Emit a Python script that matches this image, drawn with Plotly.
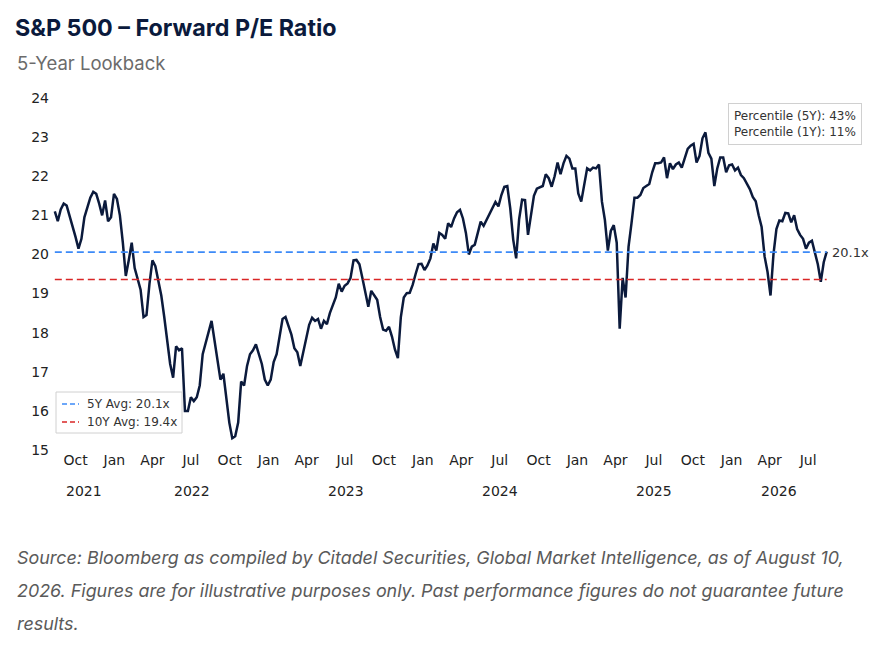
import pandas as pd
import plotly.graph_objects as go

# ── Dados (leitura semanal do gráfico, sexta-feira) ───────────────────────────
start_date = "2021-08-13"
pe_values = [
    21.1, 20.85, 21.15, 21.3, 21.25, 21.0, 20.75, 20.45, 20.15, 20.4,
    20.95, 21.2, 21.45, 21.6, 21.55, 21.3, 21.0, 21.38, 20.85, 20.95,
    21.55, 21.42, 21.0, 20.3, 19.45, 19.85, 20.3, 19.65, 19.35, 19.1,
    18.4, 18.45, 19.25, 19.85, 19.7, 19.3, 18.95, 18.4, 17.75, 17.2,
    16.85, 17.65, 17.55, 17.6, 16.0, 16.0, 16.35, 16.25, 16.35, 16.65,
    17.45, 17.75, 18.05, 18.3, 17.8, 17.3, 16.8, 16.95, 16.3, 15.7,
    15.3, 15.35, 15.7, 16.75, 16.65, 17.15, 17.45, 17.55, 17.7, 17.45,
    17.2, 16.8, 16.65, 16.8, 17.25, 17.45, 17.9, 18.35, 18.4, 18.15,
    17.95, 17.6, 17.5, 17.15, 17.5, 17.8, 18.2, 18.38, 18.3, 18.35,
    18.1, 18.3, 18.22, 18.5, 18.7, 18.9, 19.25, 19.05, 19.2, 19.26,
    19.4, 19.85, 19.86, 19.75, 19.4, 19.05, 18.66, 19.07, 18.97, 18.84,
    18.4, 18.08, 18.05, 18.15, 17.9, 17.57, 17.35, 18.4, 18.9, 19.01,
    19.02, 19.22, 19.5, 19.75, 19.76, 19.6, 19.72, 19.9, 20.28, 20.1,
    20.55, 20.5, 20.4, 20.8, 20.7, 20.92, 21.08, 21.14, 20.92, 20.55,
    20.0, 20.2, 20.25, 20.55, 20.84, 20.73, 20.88, 21.03, 21.18, 21.34,
    21.23, 21.52, 21.73, 21.75, 21.18, 20.38, 19.9, 20.9, 21.4, 21.39,
    20.5, 21.0, 21.5, 21.68, 21.72, 21.75, 22.05, 21.95, 21.73, 22.0,
    22.35, 22.05, 22.33, 22.52, 22.45, 22.2, 22.2, 21.56, 21.35, 21.75,
    22.2, 22.15, 22.22, 22.2, 22.3, 21.35, 20.88, 20.1, 20.6, 20.75,
    20.3, 18.1, 19.4, 18.9, 20.2, 20.8, 21.45, 21.45, 21.52, 21.7,
    21.75, 21.8, 22.1, 22.33, 22.33, 22.35, 22.48, 21.95, 22.33, 22.18,
    22.3, 22.35, 22.22, 22.47, 22.7, 22.78, 22.83, 22.35, 22.52, 22.97,
    23.12, 22.6, 22.45, 21.75, 22.2, 22.48, 22.48, 22.1, 22.28, 22.3,
    22.15, 22.22, 22.03, 21.95, 21.82, 21.67, 21.47, 21.36, 21.0, 20.7,
    19.95, 19.55, 18.95, 20.0, 20.65, 20.87, 20.85, 21.06, 21.05, 20.82,
    21.0, 20.65, 20.5, 20.4, 20.15, 20.3, 20.35, 20.05, 19.75, 19.3,
    19.8, 20.07,
]
avg_5y = 20.06
avg_10y = 19.36
pct_5y = 43
pct_1y = 11
tick_months = pd.date_range("2021-10-01", "2026-07-01", freq="QS")

datas = pd.date_range(start_date, periods=len(pe_values), freq="7D")
df = pd.DataFrame({"Date": datas, "PE": pe_values})

NAVY = "#0b1a3c"
BLUE = "#3d8af7"
RED = "#d92626"
FONT_MPL = "DejaVu Sans"
FONT_WEB = "Inter, Roboto, sans-serif"
DASH = "7px,4px"

# área do gráfico em pixels (para posicionar legenda/textos)
L, T, W, H = 50, 98, 820, 352


def px(x):
    return (x - L) / W


def py(y):
    return (T + H - y) / H


# ── Gráfico ───────────────────────────────────────────────────────────────────
fig = go.Figure()
fig.add_trace(go.Scatter(
    x=df["Date"], y=df["PE"], mode="lines", showlegend=False,
    line=dict(color=NAVY, width=2.5),
))
for val, cor in [(avg_5y, BLUE), (avg_10y, RED)]:
    fig.add_trace(go.Scatter(
        x=[df["Date"].iloc[0], df["Date"].iloc[-1]], y=[val, val],
        mode="lines", showlegend=False,
        line=dict(color=cor, width=1.7, dash=DASH),
    ))

# rótulos de ano no meio do trecho visível de cada ano
anotacoes = []
for ano, grp in df.groupby(df["Date"].dt.year):
    meio = grp["Date"].min() + (grp["Date"].max() - grp["Date"].min()) / 2
    anotacoes.append(dict(
        x=meio, y=py(491), xref="x", yref="paper", text=str(ano),
        showarrow=False, yanchor="middle",
        font=dict(family=FONT_MPL, size=14, color="#222222"),
    ))

# valor final
anotacoes.append(dict(
    x=df["Date"].iloc[-1], y=avg_5y, xref="x", yref="y",
    text=f"{avg_5y:.1f}x", showarrow=False, xanchor="left", xshift=3,
    font=dict(family=FONT_MPL, size=13, color="#333333"),
))

# caixa de percentis
anotacoes.append(dict(
    x=px(862), y=py(103), xref="paper", yref="paper", xanchor="right", yanchor="top",
    text=f"Percentile (5Y): {pct_5y}%<br>Percentile (1Y): {pct_1y}%",
    showarrow=False, align="left", bgcolor="white",
    bordercolor="#d0d0d0", borderwidth=1, borderpad=5,
    font=dict(family=FONT_MPL, size=12, color="#333333"),
))

# legenda manual (caixa + amostras tracejadas)
formas = [dict(
    type="rect", xref="paper", yref="paper",
    x0=px(56), x1=px(182), y0=py(433), y1=py(392),
    fillcolor="white", line=dict(color="#d0d0d0", width=1), layer="above",
)]
for (val, cor, rot), ylin in zip(
    [(avg_5y, BLUE, "5Y Avg"), (avg_10y, RED, "10Y Avg")], [404, 422]
):
    formas.append(dict(
        type="line", xref="paper", yref="paper",
        x0=px(62), x1=px(79), y0=py(ylin), y1=py(ylin),
        line=dict(color=cor, width=1.7, dash="5px,3px"), layer="above",
    ))
    anotacoes.append(dict(
        x=px(85), y=py(ylin), xref="paper", yref="paper",
        xanchor="left", yanchor="middle", showarrow=False,
        text=f"{rot}: {val:.1f}x",
        font=dict(family=FONT_MPL, size=12, color="#333333"),
    ))

# subtítulo e fonte
anotacoes.append(dict(
    x=px(15), y=py(63), xref="paper", yref="paper", xanchor="left", yanchor="middle",
    text="5-Year Lookback", showarrow=False,
    font=dict(family=FONT_WEB, size=18.5, color="#6b6b6b"),
))
linhas_fonte = [
    "Source: Bloomberg as compiled by Citadel Securities, Global Market Intelligence, as of August 10,",
    "2026. Figures are for illustrative purposes only. Past performance figures do not guarantee future",
    "results.",
]
for i, linha in enumerate(linhas_fonte):
    anotacoes.append(dict(
        x=px(15), y=py(557 + 33 * i), xref="paper", yref="paper",
        xanchor="left", yanchor="middle", showarrow=False,
        text=f"<i>{linha}</i>",
        font=dict(family=FONT_WEB, size=17.9, color="#5a5a5a"),
    ))

fig.update_layout(
    width=885, height=650,
    margin=dict(l=L, r=885 - L - W, t=T, b=650 - T - H),
    paper_bgcolor="white", plot_bgcolor="white",
    showlegend=False,
    title=dict(
        text="<b>S&amp;P 500 – Forward P/E Ratio</b>",
        x=15 / 885, xref="container", xanchor="left",
        y=1 - 28 / 650, yref="container", yanchor="middle",
        font=dict(family=FONT_WEB, size=23.3, color=NAVY),
    ),
    xaxis=dict(
        range=["2021-08-01 14:00", "2026-11-24 12:00"],
        tickvals=tick_months, ticktext=[d.strftime("%b") for d in tick_months],
        showgrid=False, zeroline=False, showline=False, ticks="",
        tickfont=dict(family=FONT_MPL, size=14, color="#222222"),
    ),
    yaxis=dict(
        range=[15, 24], dtick=1, showgrid=False, zeroline=False, showline=False,
        ticks="", tickfont=dict(family=FONT_MPL, size=14, color="#222222"),
    ),
    shapes=formas,
    annotations=anotacoes,
)

fig.write_html(
    "out.html",
    config={"displayModeBar": False},
    post_script="document.body.style.margin='0';",
)
